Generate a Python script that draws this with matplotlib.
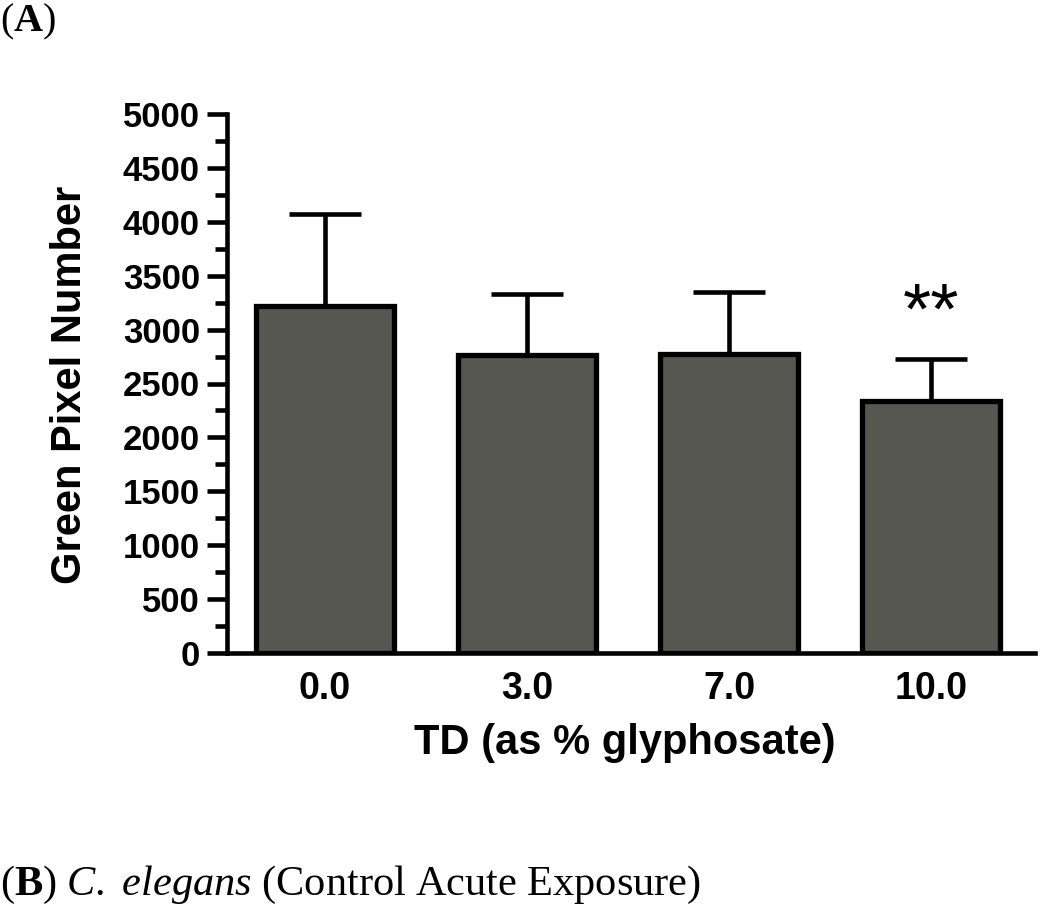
import matplotlib
matplotlib.use('Agg')
import matplotlib.pyplot as plt
from matplotlib.ticker import MultipleLocator

# ---- data ----
categories = ['0.0', '3.0', '7.0', '10.0']
means = [3220, 2765, 2770, 2340]
upper_err = [852, 565, 582, 387]
y_ticks = [0, 500, 1000, 1500, 2000, 2500, 3000, 3500, 4000, 4500, 5000]
significance = ['', '', '', '**']
x_label = 'TD (as % glyphosate)'
y_label = 'Green Pixel Number'

plt.rcParams['font.family'] = ['Liberation Sans', 'DejaVu Sans']
plt.rcParams['mathtext.fontset'] = 'custom'
plt.rcParams['mathtext.rm'] = 'Liberation Serif'
plt.rcParams['mathtext.it'] = 'Liberation Serif:italic'
plt.rcParams['mathtext.bf'] = 'Liberation Serif:bold'

W, H = 1050, 907
fig = plt.figure(figsize=(W / 100, H / 100), dpi=100)
ax = fig.add_axes([227 / W, 1 - 653 / H, 808 / W, 539 / H])

x = list(range(len(categories)))
ax.bar(x, means, width=0.685, color='#575751', edgecolor='black',
       linewidth=3.8, zorder=3)
ax.errorbar(x, means, yerr=[[0] * len(means), upper_err], fmt='none',
            ecolor='black', elinewidth=3.3, capsize=26, capthick=3.3, zorder=2)

for i, s in enumerate(significance):
    if s:
        ax.annotate(s, xy=(i, means[i] + upper_err[i]), xytext=(0, 18),
                    textcoords='offset points', ha='center', va='baseline',
                    fontsize=52, color='black')

ax.set_xlim(-0.485, 3.515)
ax.set_ylim(0, 5000)
ax.set_xticks(x)
ax.set_xticklabels(categories)
ax.set_yticks(y_ticks)
ax.set_yticklabels([str(v) for v in y_ticks])
ax.yaxis.set_minor_locator(MultipleLocator(250))

for side in ['top', 'right']:
    ax.spines[side].set_visible(False)
for side in ['left', 'bottom']:
    ax.spines[side].set_linewidth(3.3)

ax.tick_params(axis='y', which='major', length=14.5, width=3.3, labelsize=25, pad=5)
ax.tick_params(axis='y', which='minor', length=9, width=3.3)
ax.tick_params(axis='x', which='both', length=0, labelsize=27, pad=13)
for lbl in ax.get_xticklabels() + ax.get_yticklabels():
    lbl.set_fontweight('bold')

ax.set_ylabel(y_label, fontsize=30, fontweight='bold', va='center')
ax.yaxis.set_label_coords(-0.194, 0.497)
ax.set_xlabel(x_label, fontsize=30, fontweight='bold', va='center')
ax.xaxis.set_label_coords(0.4926, -0.167)

fig.text(0.0, 1 - 31 / H, r'$\mathrm{(}\mathbf{A}\mathrm{)}$', fontsize=29,
         ha='left', va='baseline')
fig.text(0.0, 1 - 895 / H,
         r'$\mathrm{(}\mathbf{B}\mathrm{)\ }\mathit{C.\ elegans}\mathrm{\ (Control\ Acute\ Exposure)}$',
         fontsize=30.5, ha='left', va='baseline')

fig.savefig('out.png', dpi=100)
